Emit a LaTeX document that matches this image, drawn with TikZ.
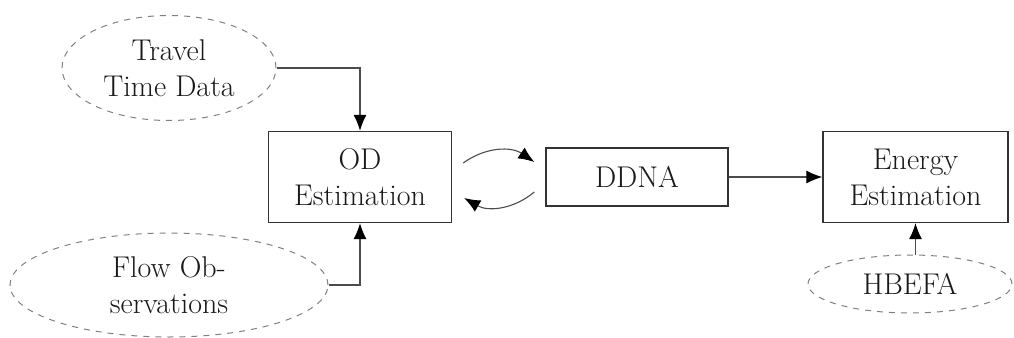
\documentclass[tikz,border=0pt]{standalone}
\usetikzlibrary{shapes.geometric,arrows.meta}
\begin{document}
\begin{tikzpicture}[x=0.5pt,y=-0.5pt,
  every node/.style={font=\fontsize{15}{18}\selectfont, align=center, inner sep=0pt, text=black!90},
  proc/.style={draw=black!80, line width=0.7pt, rectangle},
  src/.style={draw=black!50, dashed, line width=0.5pt, ellipse},
  conn/.style={draw=black!70, line width=0.55pt, -{Latex[length=8pt,width=6.5pt,color=black]}}
]
\useasboundingbox (0,0) rectangle (1014,338);
\node[proc, minimum width=91.5pt, minimum height=45.5pt] (od) at (360,177) {OD\\Estimation};
\node[proc, minimum width=91pt, minimum height=29pt] (ddna) at (637,177) {DDNA};
\node[proc, minimum width=92.5pt, minimum height=45.5pt] (en) at (915.5,177) {Energy\\Estimation};
\node[src, minimum width=107pt, minimum height=52.5pt] (tt) at (169,68) {Travel\\Time Data};
\node[src, minimum width=159pt, minimum height=52pt] (fo) at (169,285) {Flow Ob-\\servations};
\node[src, minimum width=102pt, minimum height=29pt] (hb) at (910,284) {HBEFA};
\draw[conn] (tt.east) -| (od.north);
\draw[conn] (fo.east) -| (od.south);
\draw[conn] (ddna.east) -- (en.west);
\draw[conn] (hb.north -| en.south) -- (en.south);
\draw[conn] ([shift={(11,-14)}]od.east) to[bend left=35] ([shift={(-11,-15)}]ddna.west);
\draw[conn] ([shift={(-11,15)}]ddna.west) to[bend left=35] ([shift={(12,21)}]od.east);
\end{tikzpicture}
\end{document}
